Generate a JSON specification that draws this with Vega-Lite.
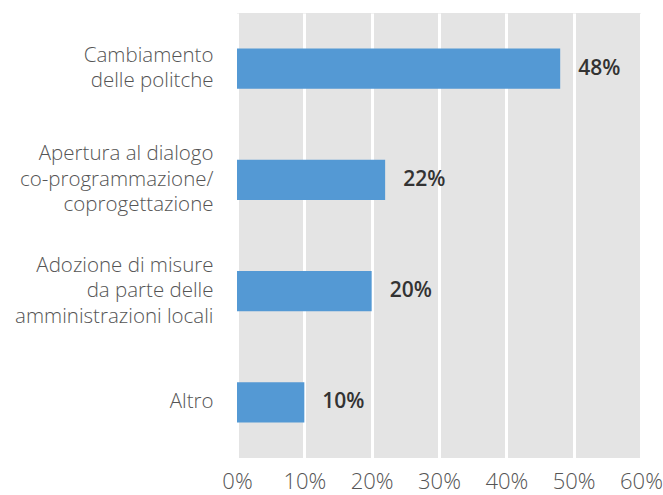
{
  "$schema": "https://vega.github.io/schema/vega-lite/v6.json",
  "autosize": {"type": "none"},
  "padding": {"left": 237, "top": 13, "right": 22, "bottom": 37},
  "width": 404,
  "height": 445,
  "background": "#ffffff",
  "config": {
    "view": {"fill": "#e4e4e4", "stroke": null},
    "font": "Open Sans"
  },
  "data": {
    "values": [
      {"category": "Cambiamento|delle politche", "value": 0.48},
      {"category": "Apertura al dialogo |co-programmazione/|coprogettazione", "value": 0.22},
      {"category": "Adozione di misure|da parte delle|amministrazioni locali", "value": 0.20},
      {"category": "Altro", "value": 0.10}
    ]
  },
  "encoding": {
    "y": {
      "field": "category",
      "type": "nominal",
      "sort": null,
      "scale": {"paddingInner": 0.64, "paddingOuter": 0.32},
      "axis": {
        "title": null,
        "domain": false,
        "ticks": false,
        "grid": false,
        "labelExpr": "split(datum.label, '|')",
        "labelFontSize": 20.5,
        "labelFontWeight": 300,
        "labelColor": "#555555",
        "labelPadding": 24,
        "labelLineHeight": 25.5,
        "labelLimit": 300,
        "labelOffset": {
          "condition": [
            {"test": "length(split(datum.label, '|')) == 3", "value": -25.5},
            {"test": "length(split(datum.label, '|')) == 2", "value": -12.75}
          ],
          "value": 0
        }
      }
    },
    "x": {
      "field": "value",
      "type": "quantitative",
      "scale": {"domain": [0, 0.6], "nice": false},
      "axis": {
        "title": null,
        "values": [0, 0.1, 0.2, 0.3, 0.4, 0.5, 0.6],
        "format": ".0%",
        "domain": false,
        "ticks": false,
        "grid": true,
        "gridColor": "#ffffff",
        "gridWidth": 3,
        "gridOpacity": 1,
        "labelFontSize": 22,
        "labelFontWeight": 300,
        "labelColor": "#555555",
        "labelPadding": 13,
        "labelFlush": false
      }
    }
  },
  "layer": [
    {"mark": {"type": "bar", "color": "#5499d4"}},
    {
      "mark": {"type": "text", "align": "left", "baseline": "middle", "dx": 18, "fontSize": 21, "fontWeight": 600, "color": "#333333"},
      "encoding": {"text": {"field": "value", "type": "quantitative", "format": ".0%"}}
    }
  ]
}
